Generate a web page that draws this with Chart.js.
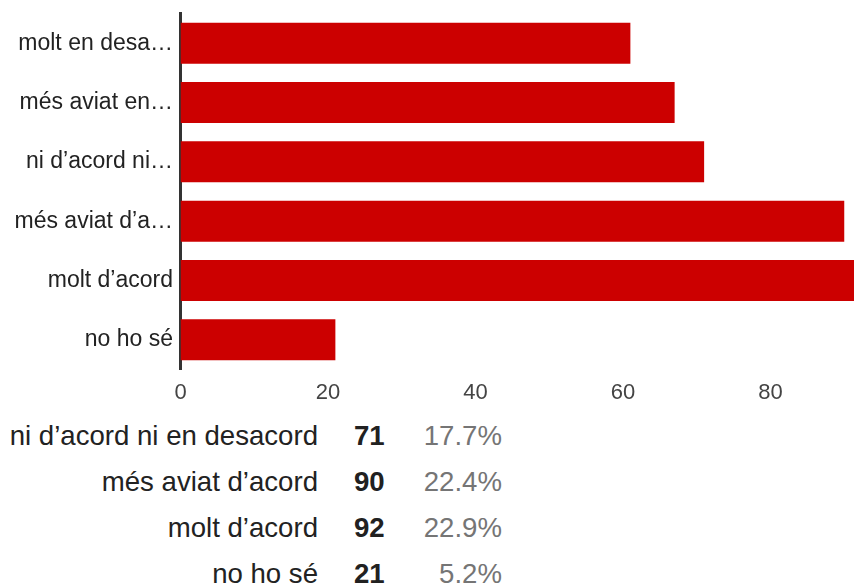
<!DOCTYPE html>
<html>
<head>
<meta charset="utf-8">
<script src="https://cdn.jsdelivr.net/npm/chart.js@4"></script>
<style>
  html, body { margin: 0; padding: 0; background: #fff; overflow: hidden; width: 854px; height: 587px; }
  body { position: relative; font-family: "Liberation Sans", Arial, sans-serif; }
  #wrap { position: absolute; left: 0; top: 0; width: 950px; height: 410px; }
  #summary { position: absolute; left: 0; top: 413px; }
  .row { display: flex; height: 46px; line-height: 46px; font-size: 27.6px; white-space: nowrap; }
  .row .lab { width: 318px; text-align: right; color: #222; }
  .row .num { margin-left: 36px; width: 40px; text-align: left; font-weight: bold; color: #212121; }
  .row .pct { width: 108px; text-align: right; color: #757575; }
</style>
</head>
<body>
<div id="wrap"><canvas id="chart" width="950" height="410"></canvas></div>
<div id="summary"></div>
<script>
// Answer options, as written in full
const categories = [
  'molt en desacord',
  'més aviat en desacord',
  'ni d’acord ni en desacord',
  'més aviat d’acord',
  'molt d’acord',
  'no ho sé'
];
// Shortened labels shown beside the bars
const tickLabels = [
  'molt en desa…',
  'més aviat en…',
  'ni d’acord ni…',
  'més aviat d’a…',
  'molt d’acord',
  'no ho sé'
];
// Number of responses per option
const counts = [61, 67, 71, 90, 92, 21];
// Value-axis ticks
const xTicks = [0, 20, 40, 60, 80, 100];
// Rows listed in the summary table under the chart
const summaryRows = [2, 3, 4, 5];

const FONT = '"Liberation Sans", Arial, sans-serif';
Chart.defaults.font.family = FONT;

new Chart(document.getElementById('chart'), {
  type: 'bar',
  data: {
    labels: tickLabels,
    datasets: [{
      data: counts,
      backgroundColor: '#cc0000',
      borderWidth: 0,
      categoryPercentage: 0.69,
      barPercentage: 1
    }]
  },
  options: {
    indexAxis: 'y',
    responsive: false,
    animation: false,
    events: [],
    layout: { padding: { top: 13.5, right: 32, left: 0, bottom: 0 } },
    plugins: { legend: { display: false }, tooltip: { enabled: false } },
    scales: {
      x: {
        min: xTicks[0],
        max: xTicks[xTicks.length - 1],
        afterBuildTicks: s => { s.ticks = xTicks.map(v => ({ value: v })); },
        grid: { display: false, drawTicks: false },
        border: { display: false },
        ticks: { color: '#444', font: { size: 22 }, padding: 10.3, maxRotation: 0 },
        afterFit: s => { s.height = 40.5; s.paddingLeft = 0; s.paddingRight = 0; }
      },
      y: {
        z: 1,
        grid: { display: false, drawTicks: false },
        border: { display: true, color: '#333', width: 3 },
        ticks: { color: '#222', font: { size: 23 }, padding: 7.5, autoSkip: false },
        afterFit: s => { s.width = 180.5; s.paddingTop = 0; s.paddingBottom = 0; }
      }
    }
  }
});

// Summary table: option, count, share of all responses
const total = counts.reduce((a, b) => a + b, 0);
const box = document.getElementById('summary');
summaryRows.forEach(i => {
  const row = document.createElement('div');
  row.className = 'row';
  const lab = document.createElement('span');
  lab.className = 'lab';
  lab.textContent = categories[i];
  const num = document.createElement('span');
  num.className = 'num';
  num.textContent = counts[i];
  const pct = document.createElement('span');
  pct.className = 'pct';
  pct.textContent = (counts[i] / total * 100).toFixed(1) + '%';
  row.append(lab, num, pct);
  box.appendChild(row);
});
</script>
</body>
</html>
